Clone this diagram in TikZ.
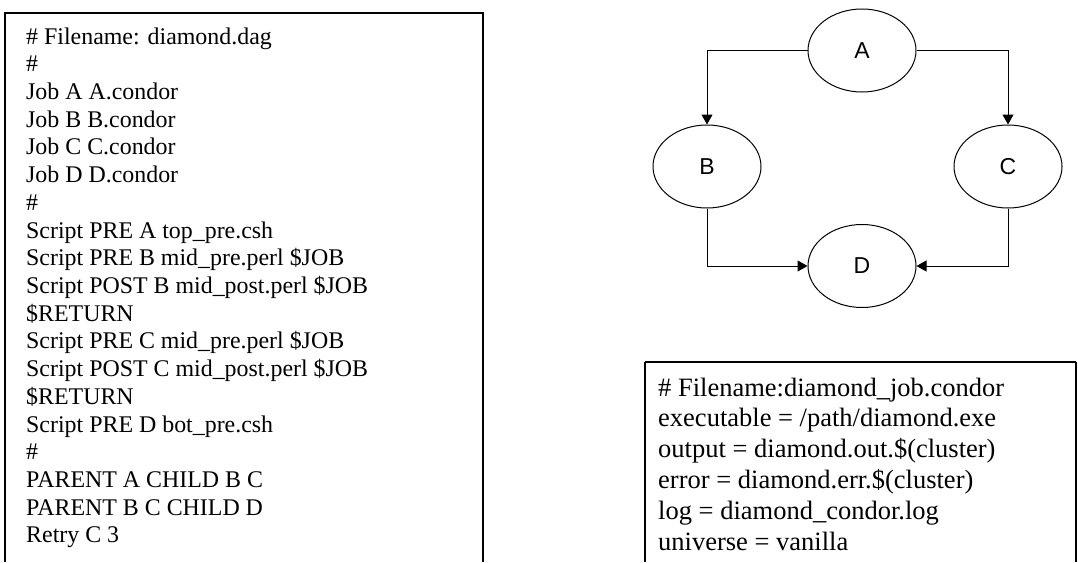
\documentclass[tikz,border=0pt]{standalone}
\usepackage{fontspec}
\setmainfont{Liberation Serif}
\newfontfamily\labelfont{Liberation Sans}
\usetikzlibrary{shapes.geometric,arrows.meta}
\tikzset{
  job/.style={draw, ellipse, line width=1pt, minimum width=108pt, minimum height=83pt, inner sep=0pt, font=\labelfont\fontsize{23}{26}\selectfont},
  arr/.style={line width=1pt, -{Triangle[length=10pt,width=11pt]}},
  frame/.style={line width=2pt},
  ltext/.style={anchor=base west, inner sep=0pt, font=\fontsize{23.9}{27}\selectfont},
  rtext/.style={anchor=base west, inner sep=0pt, font=\fontsize{26.5}{30}\selectfont},
}
\begin{document}
\begin{tikzpicture}[x=1pt,y=-1pt]
\useasboundingbox (0,0) rectangle (1078,562);
% left box
\draw[frame] (5,562) -- (5,13) -- (483,13) -- (483,562);
\foreach \t [count=\i] in {
  {\# Filename: diamond.dag},
  {\#},
  {Job A A.condor},
  {Job B B.condor},
  {Job C C.condor},
  {Job D D.condor},
  {\#},
  {Script PRE A top\_pre.csh},
  {Script PRE B mid\_pre.perl \$JOB},
  {Script POST B mid\_post.perl \$JOB},
  {\$RETURN},
  {Script PRE C mid\_pre.perl \$JOB},
  {Script POST C mid\_post.perl \$JOB},
  {\$RETURN},
  {Script PRE D bot\_pre.csh},
  {\#},
  {PARENT A CHILD B C},
  {PARENT B C CHILD D},
  {Retry C 3}}
  \node[ltext] (l\i) at (26,{44+27.72*(\i-1)}) {\t};
% right box
\draw[frame] (645,362) -- (1076,362);
\draw[frame] (645,362) -- (645,562);
\draw[frame] (1076,362) -- (1076,562);
\foreach \t [count=\i] in {
  {\# Filename:diamond\_job.condor},
  {executable = /path/diamond.exe},
  {output = diamond.out.\$(cluster)},
  {error = diamond.err.\$(cluster)},
  {log = diamond\_condor.log},
  {universe = vanilla}}
  \node[rtext] (r\i) at (658,{396+30.8*(\i-1)}) {\t};
% DAG
\node[job] (A) at (862,50.5) {A};
\node[job] (B) at (707,166.5) {B};
\node[job] (C) at (1008,166.5) {C};
\node[job] (D) at (862,266) {D};
\draw[arr] (A.west) -| (B.north);
\draw[arr] (A.east) -| (C.north);
\draw[arr] (B.south) |- (D.west);
\draw[arr] (C.south) |- (D.east);
\end{tikzpicture}
\end{document}
